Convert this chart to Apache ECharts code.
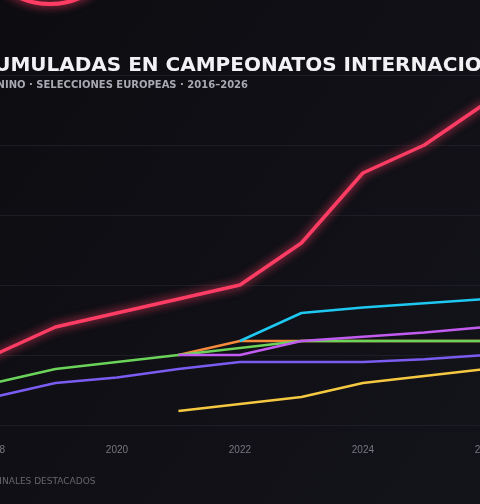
<!DOCTYPE html>
<html><head><meta charset="utf-8">
<script src="https://cdn.jsdelivr.net/npm/echarts@6/dist/echarts.min.js"></script>
<style>
html,body{margin:0;padding:0;width:480px;height:504px;overflow:hidden;background:#0d0d12;}
#c{position:absolute;left:-200px;top:0;width:700px;height:504px;}
</style></head><body>
<div id="c"></div>
<script>
// años del eje x
const years = ['2016','2017','2018','2019','2020','2021','2022','2023','2024','2025','2026'];
// medallas acumuladas por selección (null = sin datos)
const rojo    = [3, 4, 5, 7, 8, 9, 10, 13, 18, 20, 23];
const verde   = [1.5, 2, 3, 4, 4.5, 5, 5.5, 6, 6, 6, 6];
const naranja = [null, null, null, null, null, 5, 6, 6, 6, 6, 6];
const cian    = [null, null, null, null, null, null, 6, 8, 8.4, 8.7, 9];
const magenta = [null, null, null, null, null, 5, 5, 6, 6.3, 6.6, 7];
const violeta = [1, 1.5, 2, 3, 3.4, 4, 4.5, 4.5, 4.5, 4.7, 5];
const amarillo = [null, null, null, null, null, 1, 1.5, 2, 3, 3.5, 4];

const chart = echarts.init(document.getElementById('c'));

function serie(data, color, width, glow) {
    return {
        type: 'line',
        data: data,
        symbol: 'none',
        lineStyle: {
            color: color,
            width: width,
            shadowColor: glow ? color : 'transparent',
            shadowBlur: glow ? 10 : 0
        },
        z: glow ? 10 : 2
    };
}

chart.setOption({
    backgroundColor: new echarts.graphic.LinearGradient(0, 0, 1, 1, [
        {offset: 0, color: '#0b0b0f'},
        {offset: 1, color: '#13131a'}
    ]),
    title: {
        text: 'MEDALLAS ACUMULADAS EN CAMPEONATOS INTERNACIONALES',
        left: 31,
        top: 51,
        textStyle: {color: '#f2f2f5', fontSize: 20, fontWeight: 'bold', fontFamily: 'DejaVu Sans', letterSpacing: 1.5}
    },
    graphic: [
        {type: 'text', x: 448, y: 80,
         style: {text: 'BALONMANO FEMENINO · SELECCIONES EUROPEAS · 2016–2026', align: 'right',
                 fill: '#a9a9b2', font: 'bold 10px DejaVu Sans', letterSpacing: 1.2}},
        {type: 'text', left: 49, top: 477,
         style: {text: 'DATOS ILUSTRATIVOS · PUNTOS FINALES DESTACADOS', fill: '#66666e', font: '9px DejaVu Sans', letterSpacing: 0.8}},
        {type: 'circle', shape: {cx: 250, cy: -70, r: 74}, z: 20,
         style: {fill: 'none', stroke: '#ff3d64', lineWidth: 4, shadowColor: '#ff3d64', shadowBlur: 10}}
    ],
    grid: {left: 71, right: 14, top: 75, bottom: 79},
    xAxis: {
        type: 'category',
        data: years,
        boundaryGap: false,
        axisLine: {show: false},
        axisTick: {show: false},
        axisLabel: {color: '#77777f', fontSize: 10, margin: 20, interval: 1}
    },
    yAxis: {
        type: 'value',
        min: 0, max: 25, interval: 5,
        axisLabel: {color: '#77777f', fontSize: 10},
        splitLine: {lineStyle: {color: '#1d1d25', width: 1}}
    },
    series: [
        serie(amarillo, '#f5c842', 2.5, false),
        serie(violeta, '#7a5cf0', 2.5, false),
        serie(naranja, '#f58a3c', 2.5, false),
        serie(verde, '#6cd35a', 2.5, false),
        serie(magenta, '#c25cf0', 2.5, false),
        serie(cian, '#1ec8f0', 2.5, false),
        serie(rojo, '#ff3d64', 3.5, true)
    ]
});
</script>
</body></html>
